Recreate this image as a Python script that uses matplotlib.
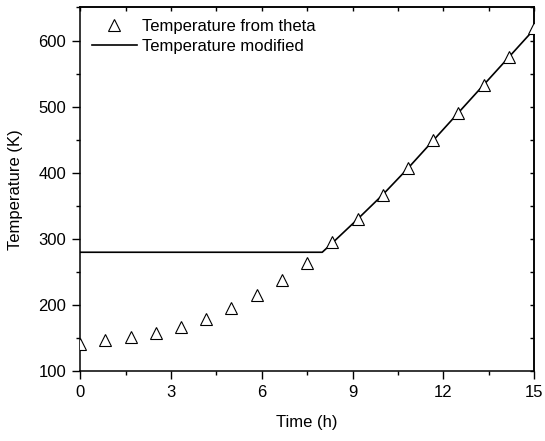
import matplotlib
matplotlib.use("Agg")
import matplotlib.pyplot as plt
from matplotlib.ticker import MultipleLocator

plt.rcParams['font.family'] = ['Liberation Sans', 'DejaVu Sans']
plt.rcParams['font.size'] = 12

# Temperature from theta (triangles)
time_theta = [0, 0.833, 1.667, 2.5, 3.333, 4.167, 5.0, 5.833, 6.667, 7.5,
              8.333, 9.167, 10.0, 10.833, 11.667, 12.5, 13.333, 14.167, 15.0]
temp_theta = [142, 147, 152, 158, 167, 179, 195, 215, 238, 264,
              295, 330, 367, 407, 449, 491, 533, 575, 619]

# Temperature modified (line)
time_mod = [0, 8.0, 8.333, 9.167, 10.0, 10.833, 11.667, 12.5, 13.333, 14.167, 15.0]
temp_mod = [280, 280, 294, 330, 367, 407, 449, 491, 533, 575, 617]

fig = plt.figure(figsize=(5.45, 4.41), dpi=100)
ax = fig.add_axes([0.147, 0.158, 0.833, 0.825])

ax.plot(time_theta, temp_theta, linestyle="none", marker="^", markersize=8.5,
        markerfacecolor="white", markeredgecolor="black", markeredgewidth=0.8,
        label="Temperature from theta", zorder=3)
ax.plot(time_mod, temp_mod, color="black", linewidth=1.2, label="Temperature modified")

ax.set_xlim(0, 15)
ax.set_ylim(100, 650)
ax.xaxis.set_major_locator(MultipleLocator(3))
ax.xaxis.set_minor_locator(MultipleLocator(1.5))
ax.yaxis.set_major_locator(MultipleLocator(100))
ax.yaxis.set_minor_locator(MultipleLocator(50))

# bottom/left ticks point out, mirrored top/right ticks point in
ax.tick_params(which="both", direction="out", width=1)
ax.tick_params(which="major", length=6, pad=4)
ax.tick_params(which="minor", length=3)

axt = ax.secondary_xaxis("top")
axt.xaxis.set_major_locator(MultipleLocator(1.5))
axt.tick_params(direction="in", length=3, width=1, labeltop=False)
axr = ax.secondary_yaxis("right")
axr.yaxis.set_major_locator(MultipleLocator(50))
axr.tick_params(direction="in", length=3, width=1, labelright=False)

for s in ax.spines.values():
    s.set_linewidth(1.1)
axt.spines["top"].set_linewidth(1.1)
axr.spines["right"].set_linewidth(1.1)

ax.set_xlabel("Time (h)", fontsize=12, labelpad=11)
ax.set_ylabel("Temperature (K)", fontsize=12, labelpad=11)

ax.legend(loc="upper left", frameon=False, fontsize=12, handlelength=2.7,
          borderaxespad=0.3, handletextpad=0.3, labelspacing=0.3)

fig.savefig("out.png", dpi=100)
